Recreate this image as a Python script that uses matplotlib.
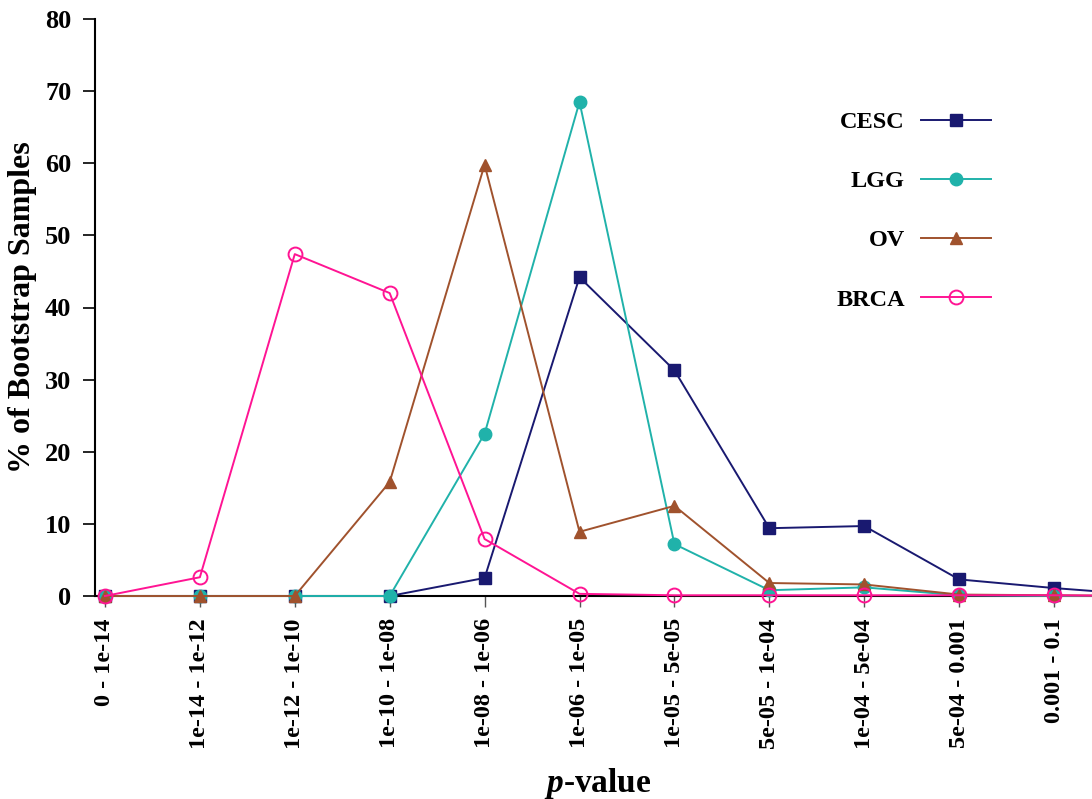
import matplotlib
matplotlib.use("Agg")
import matplotlib.pyplot as plt
from matplotlib.font_manager import FontProperties

categories = ["0 - 1e-14", "1e-14 - 1e-12", "1e-12 - 1e-10", "1e-10 - 1e-08",
              "1e-08 - 1e-06", "1e-06 - 1e-05", "1e-05 - 5e-05", "5e-05 - 1e-04",
              "1e-04 - 5e-04", "5e-04 - 0.001", "0.001 - 0.1", "0.1 - 1"]
cesc = [0, 0, 0, 0, 2.5, 44.2, 31.3, 9.4, 9.7, 2.3, 1.1, 0.1]
lgg = [0, 0, 0, 0, 22.5, 68.5, 7.2, 0.8, 1.2, 0.1, 0.0, 0.0]
ov = [0, 0, 0, 15.8, 59.8, 8.9, 12.5, 1.8, 1.6, 0.2, 0.1, 0.0]
brca = [0, 2.6, 47.4, 42.0, 7.9, 0.3, 0.1, 0.1, 0.1, 0.1, 0.1, 0.0]

plt.rcParams['font.family'] = ['Liberation Serif', 'DejaVu Serif']
plt.rcParams['font.weight'] = 'bold'
plt.rcParams['mathtext.fontset'] = 'custom'
plt.rcParams['mathtext.it'] = 'Liberation Serif:italic'
plt.rcParams['mathtext.rm'] = 'Liberation Serif:bold'

W, H = 1092, 799
fig = plt.figure(figsize=(W / 100, H / 100), dpi=100)
ax = fig.add_axes([95 / W, 203 / H, 1 - 95 / W, 577 / H])

x = list(range(len(categories)))
ax.plot(x, cesc, color='#191970', lw=1.4, marker='s', ms=9, label='CESC', clip_on=False, zorder=3)
ax.plot(x, lgg, color='#20B2AA', lw=1.4, marker='o', ms=9, label='LGG', clip_on=False, zorder=3)
ax.plot(x, ov, color='#A0522D', lw=1.4, marker='^', ms=8, label='OV', clip_on=False, zorder=3)
ax.plot(x, brca, color='#FF1493', lw=1.4, marker='o', ms=10, mfc='none', mew=1.4,
        label='BRCA', clip_on=False, zorder=3)

ax.set_xlim(-0.105, 10.4)
ax.set_ylim(0, 80)
ax.set_yticks(range(0, 81, 10))
ax.set_xticks(x[:11])
ax.set_xticklabels(categories[:11], rotation=90, fontsize=17.5, fontweight='bold')
for lbl in ax.get_yticklabels():
    lbl.set_fontsize(19)
    lbl.set_fontweight('bold')
for s in ['top', 'right']:
    ax.spines[s].set_visible(False)
ax.spines['left'].set_linewidth(1.5)
ax.spines['bottom'].set_linewidth(1.5)
ax.spines['bottom'].set_zorder(2)
ax.tick_params(axis='y', length=9, width=1.2, direction='out', pad=8)
ax.tick_params(axis='x', length=8, width=1.0, direction='out', color='#555555', pad=8)

ax.set_ylabel('% of Bootstrap Samples', fontsize=23, fontweight='bold', labelpad=6)
ax.set_xlabel(r'$p$-value', fontsize=24, fontweight='bold')
ax.xaxis.set_label_coords((598 - 95) / 997, (596 - 766) / 577)

leg = fig.legend(loc='upper right', bbox_to_anchor=(991 / W, 1 - 111 / H), frameon=False,
                 markerfirst=False, handlelength=2.9, labelspacing=1.53,
                 handletextpad=0.64, borderpad=0, borderaxespad=0,
                 prop=FontProperties(family='Liberation Serif', weight='bold', size=17.5))

fig.savefig('out.png', dpi=100)
